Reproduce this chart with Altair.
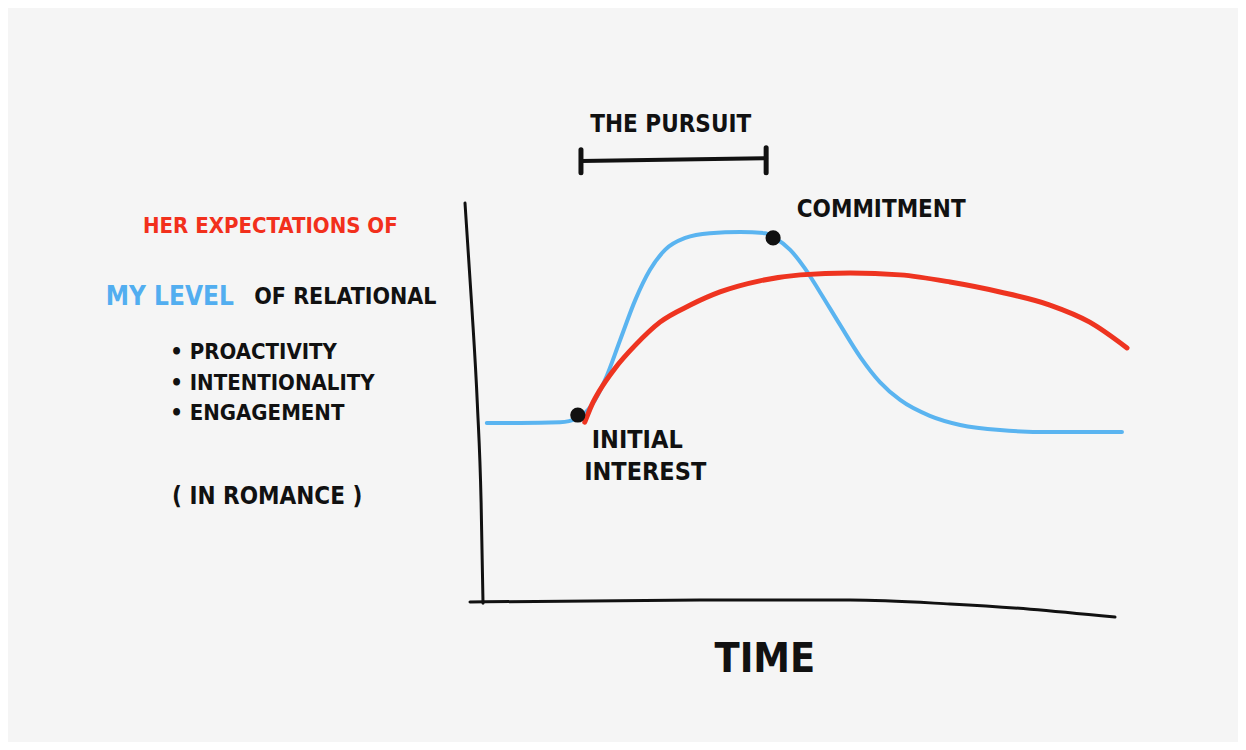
import altair as alt
import pandas as pd

# ---- data (time 0..100 along the x axis, level 0..100 up the y axis) ----
blue_time = [0.6, 5.9, 12.2, 14.9, 17.2, 19.3, 21.7, 24.1, 26.4, 28.8, 32.0, 35.9, 40.7, 44.6,
             46.2, 48.6, 50.9, 53.3, 56.5, 59.7, 62.8, 66.0, 70.7, 75.5, 81.8, 89.7, 101.1]
blue_level = [45.1, 45.1, 45.3, 46.3, 49.6, 55.9, 66.0, 76.1, 83.6, 88.7, 91.7, 92.9, 93.2, 92.9,
              91.7, 88.7, 84.1, 78.1, 69.8, 61.7, 55.4, 50.9, 46.9, 44.6, 43.3, 42.8, 42.8]

red_time = [16.1, 17.2, 18.5, 20.9, 24.1, 28.0, 32.8, 37.5, 43.8, 50.2, 58.1, 66.0, 73.9,
            81.8, 89.7, 96.0, 101.9]
red_level = [45.3, 49.6, 53.4, 58.9, 64.7, 70.5, 74.8, 78.1, 80.9, 82.4, 82.9, 82.4, 80.6,
             78.1, 74.8, 70.5, 64.0]

event_time = [15.0, 45.9]
event_level = [47.1, 91.7]

# hand-drawn axes
yaxis_time = [-2.85, -1.8, -0.9, -0.3, 0.0]
yaxis_level = [100.5, 75.0, 50.0, 25.0, -0.3]
xaxis_time = [-2.06, 34.3, 58.1, 73.9, 86.6, 100.0]
xaxis_level = [0.0, 0.5, 0.5, -0.5, -1.8, -3.8]

# "the pursuit" bracket
bracket_time = [15.5, 44.8]
bracket_level = [111.1, 111.8]
cap_time = [15.5, 15.5, 44.8, 44.8]
cap_level = [113.9, 108.1, 114.4, 108.1]
cap_group = ["a", "a", "b", "b"]

# labels
center_labels = ["THE PURSUIT", "COMMITMENT", "TIME"]
center_time = [29.7, 63.0, 44.6]
center_level = [120.2, 98.7, -14.6]
center_size = [24, 24, 41]

left_labels = ["INITIAL", "INTEREST", "HER EXPECTATIONS OF", "MY LEVEL", "OF RELATIONAL",
               "• PROACTIVITY", "• INTENTIONALITY", "• ENGAGEMENT", "( IN ROMANCE )"]
left_time = [17.2, 16.0, -53.8, -59.7, -36.2, -49.5, -49.5, -49.5, -49.2]
left_level = [40.8, 32.7, 94.7, 76.8, 76.8, 63.0, 55.2, 47.6, 26.4]
left_color = ["#111111", "#111111", "#f2301c", "#52aef0", "#111111",
              "#111111", "#111111", "#111111", "#111111"]
left_size = [25, 25, 22, 26, 23, 22, 22, 22, 24]

BLUE = "#5ab4f0"
RED = "#ee3420"
INK = "#111111"
FONT = "Liberation Sans Narrow, DejaVu Sans Condensed, DejaVu Sans, sans-serif"

xs = alt.Scale(domain=[-75.16, 119.46], nice=False, zero=False)
ys = alt.Scale(domain=[-35.26, 149.62], nice=False, zero=False)


def enc(df_chart, order=True):
    kw = dict(x=alt.X("t:Q", scale=xs, axis=None), y=alt.Y("L:Q", scale=ys, axis=None))
    if order:
        kw["order"] = alt.Order("i:Q")
    return df_chart.encode(**kw)


def frame(ts, ls, **extra):
    d = pd.DataFrame({"t": ts, "L": ls, "i": list(range(len(ts)))})
    for k, v in extra.items():
        d[k] = v
    return d


blue_df = frame(blue_time, blue_level)
red_df = frame(red_time, red_level)
yaxis_df = frame(yaxis_time, yaxis_level)
xaxis_df = frame(xaxis_time, xaxis_level)
bracket_df = frame(bracket_time, bracket_level)
cap_df = frame(cap_time, cap_level, g=cap_group)
event_df = frame(event_time, event_level)
center_df = frame(center_time, center_level, label=center_labels, size=center_size)
left_df = frame(left_time, left_level, label=left_labels, color=left_color, size=left_size)

yaxis = enc(alt.Chart(yaxis_df).mark_line(color=INK, strokeWidth=3, interpolate="monotone", strokeCap="round"))
xaxis = enc(alt.Chart(xaxis_df).mark_line(color=INK, strokeWidth=3, interpolate="monotone", strokeCap="round"))
blue = enc(alt.Chart(blue_df).mark_line(color=BLUE, strokeWidth=4, interpolate="monotone", strokeCap="round"))
red = enc(alt.Chart(red_df).mark_line(color=RED, strokeWidth=5, interpolate="monotone", strokeCap="round"))
bracket = enc(alt.Chart(bracket_df).mark_line(color=INK, strokeWidth=4, strokeCap="round"))
caps = alt.Chart(cap_df).mark_line(color=INK, strokeWidth=5, strokeCap="round").encode(
    x=alt.X("t:Q", scale=xs, axis=None), y=alt.Y("L:Q", scale=ys, axis=None),
    detail="g:N", order=alt.Order("i:Q"))
dots = enc(alt.Chart(event_df).mark_circle(color=INK, opacity=1, size=230), order=False)

center_text = alt.Chart(center_df).mark_text(
    font=FONT, fontWeight="bold", align="center", baseline="middle", color=INK
).encode(
    x=alt.X("t:Q", scale=xs, axis=None), y=alt.Y("L:Q", scale=ys, axis=None),
    text="label:N", size=alt.Size("size:Q", scale=None, legend=None))

left_text = alt.Chart(left_df).mark_text(
    font=FONT, fontWeight="bold", align="left", baseline="middle"
).encode(
    x=alt.X("t:Q", scale=xs, axis=None), y=alt.Y("L:Q", scale=ys, axis=None),
    text="label:N", color=alt.Color("color:N", scale=None, legend=None),
    size=alt.Size("size:Q", scale=None, legend=None))

chart = alt.layer(
    yaxis, xaxis, blue, red, bracket, caps, dots, center_text, left_text
).properties(
    width=1230, height=734, background="#f5f5f5", padding=0, autosize="none"
).configure_view(stroke=None)

chart.save("out.html", embed_options={"renderer": "svg", "actions": False})
